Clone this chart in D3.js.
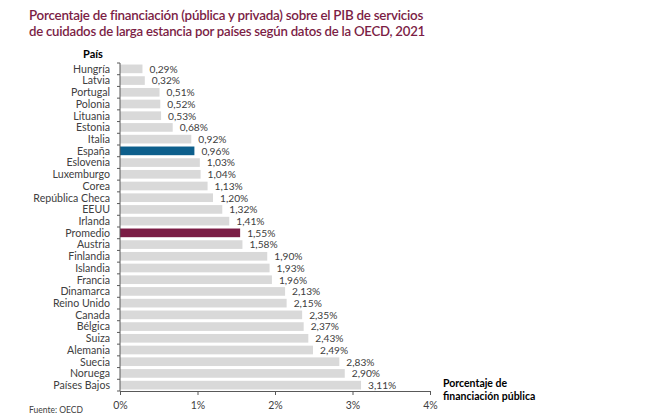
<!DOCTYPE html>
<html><head><meta charset="utf-8">
<script src="https://cdn.jsdelivr.net/npm/d3@7"></script>
<style>body{margin:0;background:#fff;} svg{display:block;font-family:Lato,"Open Sans",sans-serif;}</style>
</head><body><div id="chart"></div>
<script>
const countries = ["Hungría","Latvia","Portugal","Polonia","Lituania","Estonia","Italia","España","Eslovenia","Luxemburgo","Corea","República Checa","EEUU","Irlanda","Promedio","Austria","Finlandia","Islandia","Francia","Dinamarca","Reino Unido","Canada","Bélgica","Suiza","Alemania","Suecia","Noruega","Países Bajos"];
const values = [0.29,0.32,0.51,0.52,0.53,0.68,0.92,0.96,1.03,1.04,1.13,1.20,1.32,1.41,1.55,1.58,1.90,1.93,1.96,2.13,2.15,2.35,2.37,2.43,2.49,2.83,2.90,3.11];
const xTicks = [0,1,2,3,4];
const highlight = {"España":"#0d5f8c","Promedio":"#7b1d45"};

const W=647,H=416;
const svg=d3.select("#chart").append("svg").attr("width",W).attr("height",H);
const x=d3.scaleLinear().domain([0,4]).range([120,430]);
const y=d3.scaleBand().domain(countries).range([63,391]).paddingInner(0.26).paddingOuter(0.13);
const fmt=v=>d3.format(".2f")(v).replace(".",",")+"%";

// title
const title=svg.append("text").attr("fill","#7b1d45").style("font-size","13.6px").style("font-weight","600").style("letter-spacing","-0.25px");
title.append("tspan").attr("x",29).attr("y",20).attr("textLength",394).attr("lengthAdjust","spacingAndGlyphs").text("Porcentaje de financiación (pública y privada) sobre el PIB de servicios");
title.append("tspan").attr("x",29).attr("y",36).attr("textLength",396).attr("lengthAdjust","spacingAndGlyphs").text("de cuidados de larga estancia por países según datos de la OECD, 2021");

svg.append("text").attr("x",83).attr("y",58).style("font-size","11px").style("font-weight","bold").attr("fill","#000").text("País");

// bars
svg.selectAll("rect.bar").data(countries).enter().append("rect")
 .attr("x",x(0)).attr("y",d=>y(d)).attr("height",y.bandwidth())
 .attr("width",(d,i)=>x(values[i])-x(0))
 .attr("fill",d=>highlight[d]||"#d9d9d9");

// value labels
svg.selectAll("text.val").data(countries).enter().append("text")
 .attr("x",(d,i)=>x(values[i])+7).attr("y",d=>y(d)+y.bandwidth()/2+3.8)
 .style("font-size","10.2px").attr("fill","#404040")
 .text((d,i)=>fmt(values[i]));

// category labels
svg.selectAll("text.cat").data(countries).enter().append("text")
 .attr("x",110).attr("y",d=>y(d)+y.bandwidth()/2+3.8).attr("text-anchor","end")
 .style("font-size","10.6px").attr("fill","#404040").text(d=>d);

// y axis line with ticks at boundaries
svg.append("line").attr("x1",120).attr("x2",120).attr("y1",63).attr("y2",391).attr("stroke","#595959");
const bounds=countries.map(d=>y(d)-y.step()*y.paddingInner()/2).concat([391]);
svg.selectAll("line.yt").data(bounds).enter().append("line")
 .attr("x1",117).attr("x2",120).attr("y1",d=>d).attr("y2",d=>d).attr("stroke","#595959");

// x axis
const xa=svg.append("g").attr("transform","translate(0,391)")
 .call(d3.axisBottom(x).tickValues(xTicks).tickSize(4).tickFormat(d=>d+"%"));
xa.select(".domain").attr("stroke","#595959");
xa.selectAll(".tick line").attr("stroke","#595959");
xa.selectAll(".tick text").attr("fill","#404040").style("font-size","10.5px").style("font-family","Lato,sans-serif").attr("dy","1.05em");

const at=svg.append("text").style("font-size","10.5px").style("font-weight","bold").attr("fill","#000");
at.append("tspan").attr("x",443).attr("y",387).text("Porcentaje de");
at.append("tspan").attr("x",443).attr("y",400).text("financiación pública");

svg.append("text").attr("x",29).attr("y",413).style("font-size","8.5px").attr("fill","#404040").text("Fuente: OECD");
</script></body></html>
